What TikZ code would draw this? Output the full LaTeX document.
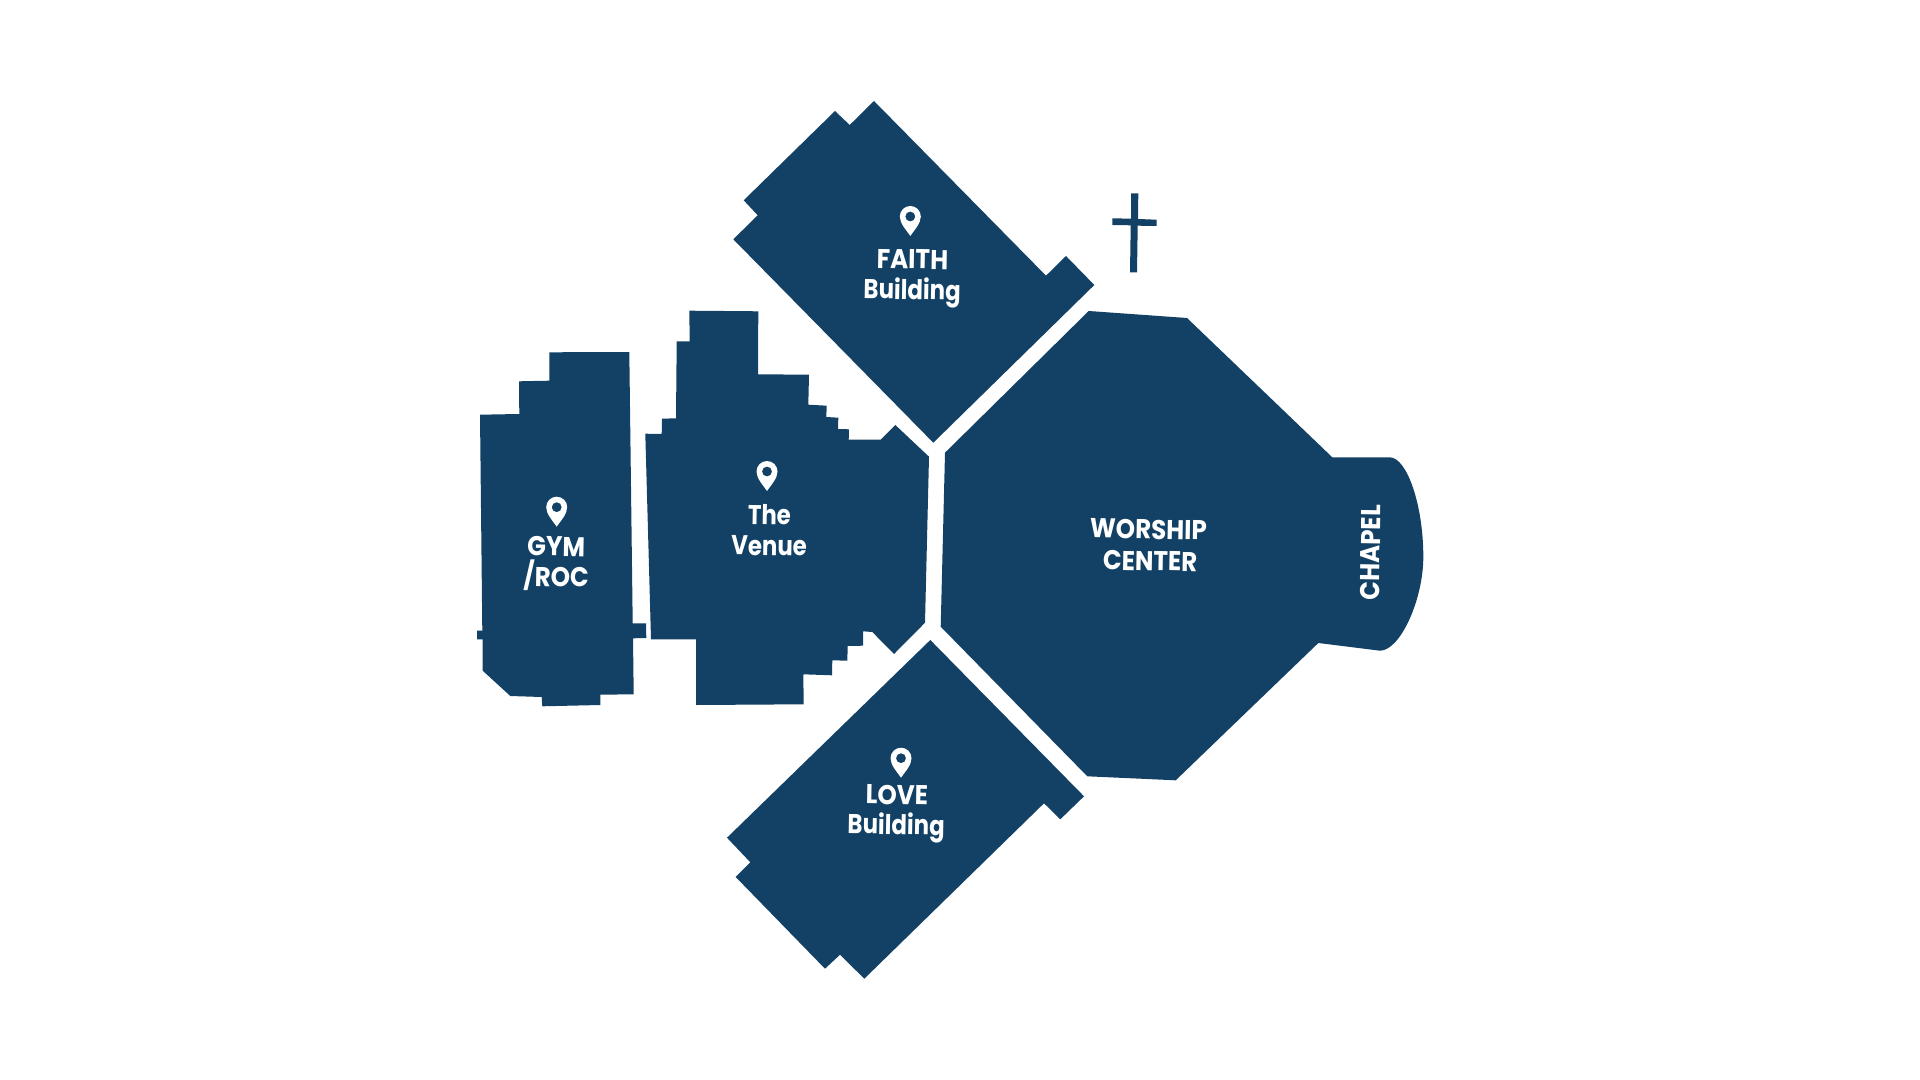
\documentclass[tikz,border=0pt]{standalone}
\usepackage{fontspec}
\setmainfont{Poppins}[UprightFont=* SemiBold,BoldFont=* Bold]
\newfontfamily\capsfam{Poppins}[UprightFont=* Bold,FakeStretch=0.905]
\newfontfamily\lowfam{Poppins}[UprightFont=* Bold,FakeStretch=0.84]
\definecolor{navy}{HTML}{124165}
\tikzset{
  bldg/.style={fill=navy,draw=none},
  lbl/.style={anchor=base,text=white,inner sep=0pt,font=\fontsize{13.6}{16}\selectfont\capsfam,rotate=-1},
  lowlbl/.style={lbl,font=\fontsize{13.6}{16}\selectfont\lowfam},
  pinmark/.style={fill=white,draw=none,even odd rule}
}
\newcommand{\mappin}[2]{%
  \fill[pinmark,shift={(#1,#2)}] (0,30) .. controls (-4,24) and (-10.5,17.5) .. (-10.5,10.5)
    .. controls (-10.5,4.7) and (-5.8,0) .. (0,0) .. controls (5.8,0) and (10.5,4.7) .. (10.5,10.5)
    .. controls (10.5,17.5) and (4,24) .. (0,30) -- cycle
    (0,5.5) .. controls (-2.8,5.5) and (-5,7.7) .. (-5,10.5) .. controls (-5,13.3) and (-2.8,15.5) .. (0,15.5)
    .. controls (2.8,15.5) and (5,13.3) .. (5,10.5) .. controls (5,7.7) and (2.8,5.5) .. (0,5.5) -- cycle;}
\begin{document}
\begin{tikzpicture}[x=0.5pt,y=-0.5pt]
\useasboundingbox (0,0) rectangle (1920,1080);
\fill[white] (0,0) rectangle (1920,1080);
% GYM
\fill[bldg] (549.3,352.3) -- (629.3,352) -- (632.7,623.3) -- (646,623.3) -- (646.3,638) -- (633,638.3) -- (633.7,694.3) -- (600.3,694.7) -- (600.3,705) -- (542.3,706.3) -- (541.7,697) -- (510.3,696) -- (482.7,670.7) -- (482.7,639.3) -- (477,639.3) -- (477,630.7) -- (482.3,630.7) -- (480,414.7) -- (519.3,414) -- (519,381.3) -- (549.3,380.7) -- cycle;
% Venue
\fill[bldg] (689.3,310.7) -- (758.3,311.3) -- (758,374.3) -- (809,374.7) -- (808.3,404.7) -- (826.7,405.7) -- (826.3,417) -- (838.3,417.7) -- (838,429) -- (849,429.3) -- (848.7,439.7) -- (880.7,439.7) -- (895.3,425) -- (929,456.7) -- (925,622.7) -- (894,654) -- (872.3,632) -- (863,631.3) -- (863,645.7) -- (847.7,646) -- (847.3,660.7) -- (832.3,660.3) -- (832,675.3) -- (803.3,674.3) -- (803.7,704.3) -- (696,705) -- (696,639.3) -- (651,639.3) -- (645.3,433.7) -- (661.7,434) -- (662,418.7) -- (676,418.3) -- (676.7,341.3) -- (689.7,341.3) -- cycle;
% Faith
\fill[bldg] (874,101) -- (1046,275.7) -- (1066,256) -- (1094.3,285) -- (933.3,442.7) -- (733.3,239.3) -- (757.7,215.3) -- (743.7,200.3) -- (835,111) -- (849.7,125) -- cycle;
% Love
\fill[bldg] (930.3,640) -- (1084,796.3) -- (1060.3,819.3) -- (1044,803.3) -- (864.3,978.7) -- (840,954.7) -- (825,968.7) -- (735.7,877) -- (750.3,862.3) -- (727,837.7) -- cycle;
% Worship + chapel
\fill[bldg] (1088.7,311) -- (1187,318) -- (1332.3,457.3) -- (1390,457.3) .. controls (1407,458) and (1423.3,505) .. (1423.3,556.7) .. controls (1423.3,600) and (1400,650.7) .. (1380,650.7) -- (1318.3,643) -- (1175.7,780.3) -- (1087.3,776.3) -- (940.7,626.7) -- (945,452.7) -- cycle;
% Cross
\fill[bldg] (1131,193.3) -- (1138.3,193.3) -- (1138,219) -- (1156.7,219.7) -- (1156.7,226) -- (1137.7,225.7) -- (1137,272.3) -- (1130,272.3) -- (1130.7,225.3) -- (1112.3,225) -- (1112.3,218.3) -- (1131,218.7) -- cycle;
% Pins
\mappin{556.7}{496.7}
\mappin{767}{461}
\mappin{910.3}{206}
\mappin{901}{747.7}
% Labels
\node[lbl] (gym) at (556,556) {GYM};
\node[lbl] (roc) at (556,586.5) {/ROC};
\node[lowlbl] (the) at (769.3,524.8) {The};
\node[lowlbl] (venue) at (769,555.5) {Venue};
\node[lbl] (faith) at (912.3,268.8) {FAITH};
\node[lowlbl] (faithb) at (912,299.5) {Building};
\node[lbl] (love) at (896.7,804.5) {LOVE};
\node[lowlbl] (loveb) at (896,834.5) {Building};
\node[lbl] (worship) at (1148.3,539) {WORSHIP};
\node[lbl] (center) at (1150,570.5) {CENTER};
\node[lbl,rotate=90] (chapel) at (1380,552.7) {CHAPEL};
\end{tikzpicture}
\end{document}
